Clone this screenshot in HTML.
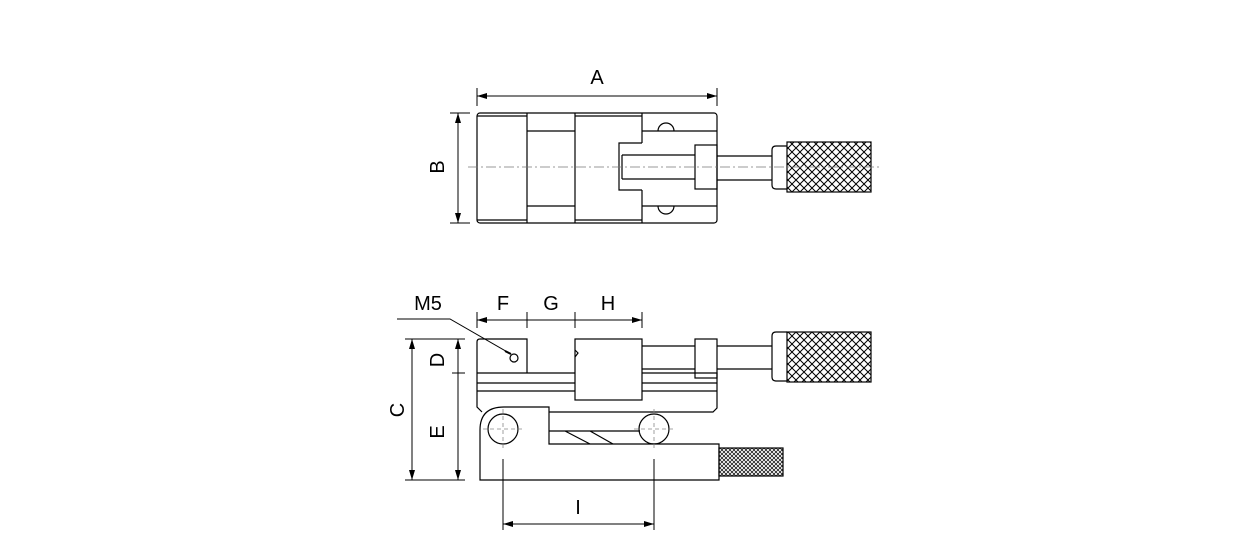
<!DOCTYPE html>
<html><head><style>body{margin:0;background:#fff}svg{display:block}</style></head><body>
<svg width="1240" height="560" viewBox="0 0 1240 560" xmlns="http://www.w3.org/2000/svg" font-family="Liberation Sans, sans-serif" font-size="20">
<defs>
<pattern id="kn" width="8" height="8" patternUnits="userSpaceOnUse"><path d="M0 0L8 8M8 0L0 8" stroke="#000" stroke-width="1"/></pattern>
<pattern id="kn2" width="4" height="4" patternUnits="userSpaceOnUse"><path d="M0 0L4 4M4 0L0 4" stroke="#000" stroke-width="0.7"/></pattern>
<marker id="ar" viewBox="0 0 10 6" refX="10" refY="3" markerWidth="10" markerHeight="6" orient="auto-start-reverse" markerUnits="userSpaceOnUse"><path d="M0 0L10 3L0 6z" fill="#000"/></marker>
</defs>
<g fill="none" stroke="#000" stroke-width="1.2">
<!-- TOP VIEW -->
<rect x="477" y="113" width="240" height="110" rx="3"/>
<path d="M477 116H527M527 131H575M575 116H642M642 131H717M477 220H527M527 206H575M575 220H642M642 206H717"/>
<path d="M527 113V223M575 113V223M642 113V143M642 190V223"/>
<path d="M658 131A8 8 0 0 1 674 131M658 206A8 8 0 0 0 674 206"/>
<path d="M642 143H619V190H642"/>
<path d="M622 155H695M622 179H695M622 155V179"/>
<rect x="695" y="145" width="22" height="44"/>
<path d="M717 156H772M717 180H772"/>
<path d="M787 146H776Q772 146 772 150V185Q772 189 776 189H787"/>
<rect x="787" y="142" width="84" height="50" fill="url(#kn)"/>
<!-- SIDE VIEW -->
<path d="M477 373H717V408L713 412H549M477 373V407L482 412"/>
<path d="M477 383H575M642 383H717M477 391H575M642 391H717"/>
<path d="M477 373V342Q477 339 480 339H527V373"/>
<rect x="575" y="339" width="67" height="61" fill="#fff"/>
<path d="M575 350L578 353L575 357"/>
<path d="M642 346H695M642 369H695"/>
<rect x="695" y="339" width="22" height="39"/>
<path d="M717 346H772M717 369H772"/>
<path d="M787 332H776Q772 332 772 336V377Q772 381 776 381H787"/>
<rect x="787" y="332" width="84" height="50" fill="url(#kn)"/>
<path d="M549 407H504Q480 407 480 430V480H719V444H549Z"/>
<path d="M549 431H640M565 431L590 444M590 431L613 444"/>
<circle cx="503" cy="429" r="15"/>
<circle cx="654" cy="429" r="15"/>
<rect x="719" y="448" width="64" height="28" fill="url(#kn2)"/>
<circle cx="514" cy="358" r="4"/>
</g>
<g fill="none" stroke="#777" stroke-width="0.8" stroke-dasharray="10 3 2 3">
<path d="M468 167H880"/>
</g>
<g fill="none" stroke="#888" stroke-width="0.8" stroke-dasharray="4 3">
<path d="M483 429H523M503 409V449M634 429H674M654 409V449"/>
</g>
<g fill="none" stroke="#000" stroke-width="1">
<path d="M477 88V106M717 88V106"/>
<path d="M477 96H717" marker-start="url(#ar)" marker-end="url(#ar)"/>
<path d="M450 113H470M450 223H470"/>
<path d="M458 113V223" marker-start="url(#ar)" marker-end="url(#ar)"/>
<path d="M477 312V328M527 312V328M575 312V328M642 312V328"/>
<path d="M477 320H527M527 320H575M575 320H642" marker-start="url(#ar)" marker-end="url(#ar)"/>
<path d="M397 319H450L509 353"/>
<path d="M505 351L511 354" stroke-width="2"/>
<path d="M405 339H465M405 480H465M452 373H465"/>
<path d="M412 339V480" marker-start="url(#ar)" marker-end="url(#ar)"/>
<path d="M458 339V373M458 373V480" marker-start="url(#ar)" marker-end="url(#ar)"/>
<path d="M503 459V530M654 459V530"/>
<path d="M503 524H654" marker-start="url(#ar)" marker-end="url(#ar)"/>
</g>
<g fill="#000" text-anchor="middle">
<text x="597" y="84">A</text>
<text x="0" y="0" transform="translate(444,167) rotate(-90)">B</text>
<text x="428" y="310">M5</text>
<text x="503" y="310">F</text>
<text x="551" y="310">G</text>
<text x="608" y="310">H</text>
<text x="0" y="0" transform="translate(404,410) rotate(-90)">C</text>
<text x="0" y="0" transform="translate(444,360) rotate(-90)">D</text>
<text x="0" y="0" transform="translate(444,432) rotate(-90)">E</text>
<text x="578" y="514">I</text>
</g>
</svg>
</body></html>
